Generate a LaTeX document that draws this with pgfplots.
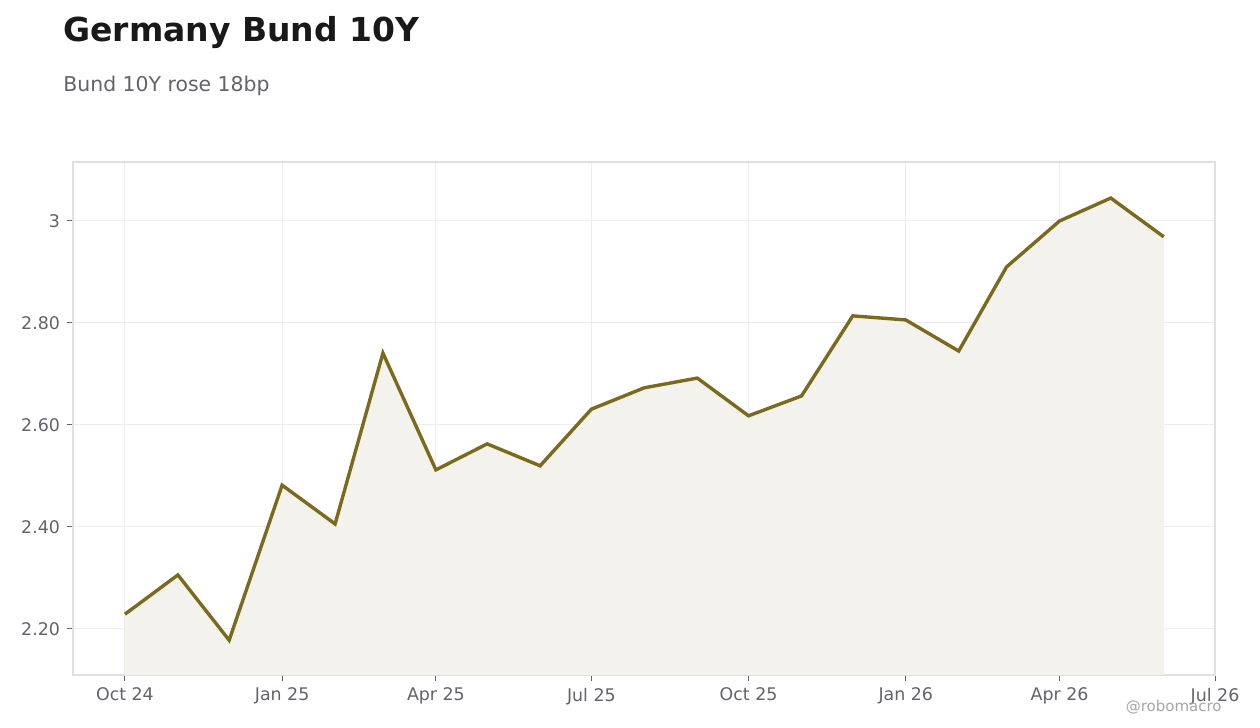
\documentclass[border=0pt]{standalone}
\usepackage{pgfplots}
\pgfplotsset{compat=1.18}
\usepackage{fontspec}
\setmainfont{DejaVu Sans}
\definecolor{bundline}{HTML}{7B6A1E}
\definecolor{bundfill}{HTML}{F3F2ED}
\definecolor{ticktext}{HTML}{62636B}
\definecolor{gridc}{HTML}{EDEDED}
\definecolor{framec}{HTML}{E0E0E0}
\begin{document}
\begin{tikzpicture}
\useasboundingbox (0,0) rectangle (630pt,364pt);
\node[anchor=base west,inner sep=0pt,font=\bfseries\fontsize{16.5}{19}\selectfont,text=black!90] at (31.5pt,343pt) {Germany Bund 10Y};
\node[anchor=base west,inner sep=0pt,font=\fontsize{10.2}{12}\selectfont,text=ticktext] at (31.5pt,318pt) {Bund 10Y rose 18bp};
\begin{axis}[
  at={(36.5pt,26.5pt)}, anchor=south west,
  scale only axis, width=571pt, height=256.5pt,
  xmin=-30.4, xmax=638, ymin=2.1098, ymax=3.1157,
  xtick={0,92,182,273,365,457,547,638},
  xticklabels={Oct 24,Jan 25,Apr 25,Jul 25,Oct 25,Jan 26,Apr 26,Jul 26},
  ytick={2.2,2.4,2.6,2.8,3.0},
  yticklabels={2.20,2.40,2.60,2.80,3},
  xtick pos=bottom, ytick pos=left,
  /pgf/number format/assume math mode=true,
  tick label style={font=\fontsize{8.7}{10}\selectfont,text=ticktext},
  tick align=outside, major tick length=3pt,
  tick style={color=ticktext, line width=0.5pt},
  xmajorgrids, ymajorgrids,
  grid style={color=gridc, line width=0.5pt},
  axis line style={color=framec, line width=0.6pt},
  clip=true,
]
\addplot[fill=bundfill, draw=none] coordinates {
  (0,2.229) (31,2.306) (61,2.178) (92,2.482) (123,2.406) (151,2.741)
  (182,2.512) (212,2.563) (243,2.520) (273,2.631) (304,2.673) (335,2.692)
  (365,2.618) (396,2.657) (426,2.814) (457,2.806) (488,2.745) (516,2.910)
  (547,3.000) (577,3.045) (608,2.969)
} \closedcycle;
\addplot[color=bundline, line width=1.7pt, mark=none] coordinates {
  (0,2.229) (31,2.306) (61,2.178) (92,2.482) (123,2.406) (151,2.741)
  (182,2.512) (212,2.563) (243,2.520) (273,2.631) (304,2.673) (335,2.692)
  (365,2.618) (396,2.657) (426,2.814) (457,2.806) (488,2.745) (516,2.910)
  (547,3.000) (577,3.045) (608,2.969)
};
\end{axis}
\node[anchor=base east,inner sep=0pt,font=\fontsize{7.5}{9}\selectfont,text=black!35] at (611pt,8pt) {@robomacro};
\end{tikzpicture}
\end{document}
